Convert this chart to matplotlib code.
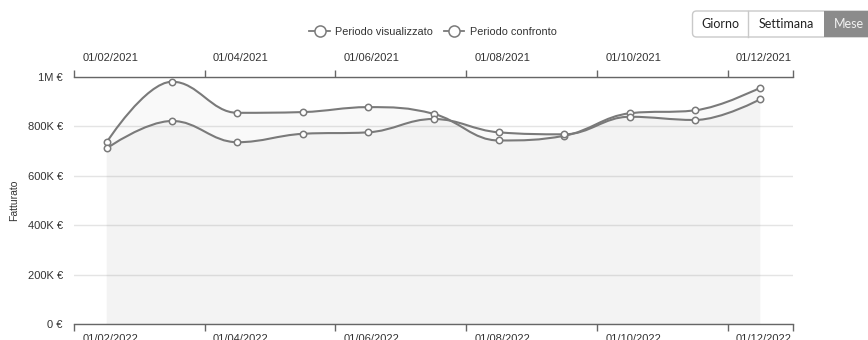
import matplotlib.pyplot as plt
from matplotlib.path import Path
from matplotlib.patches import PathPatch, FancyBboxPatch, Rectangle
from matplotlib.lines import Line2D
from matplotlib.transforms import IdentityTransform, ScaledTranslation

plt.rcParams['font.family'] = ['Liberation Sans', 'DejaVu Sans']

# fatturato mensile, febbraio -> dicembre
periodo_visualizzato = [736000, 981000, 855000, 858000, 878000, 851000,
                        743000, 762000, 853000, 865000, 957000]
periodo_confronto = [711000, 822000, 736000, 770000, 776000, 830000,
                     776000, 768000, 839000, 826000, 910000]
series_labels = ['Periodo visualizzato', 'Periodo confronto']

top_tick_labels = ['01/02/2021', '01/04/2021', '01/06/2021',
                   '01/08/2021', '01/10/2021', '01/12/2021']
bottom_tick_labels = ['01/02/2022', '01/04/2022', '01/06/2022',
                      '01/08/2022', '01/10/2022', '01/12/2022']
y_ticks = [0, 200000, 400000, 600000, 800000, 1000000]
y_tick_labels = ['0 €', '200K €', '400K €', '600K €', '800K €', '1M €']
buttons = ['Giorno', 'Settimana', 'Mese']

LINE = '#7a7a7a'
TEXT = '#333333'
AXIS = '#666666'


def spline_path(xs, ys, smoothing=1.5):
    """Cubic bezier path through the points, highcharts-style spline."""
    n = len(xs)
    denom = smoothing + 1
    left = [(x, y) for x, y in zip(xs, ys)]
    right = [(x, y) for x, y in zip(xs, ys)]
    for i in range(1, n - 1):
        x, y = xs[i], ys[i]
        lx, ly = xs[i - 1], ys[i - 1]
        nx, ny = xs[i + 1], ys[i + 1]
        lcx = (smoothing * x + lx) / denom
        lcy = (smoothing * y + ly) / denom
        rcx = (smoothing * x + nx) / denom
        rcy = (smoothing * y + ny) / denom
        if rcx != lcx:
            corr = (rcy - lcy) * (rcx - x) / (rcx - lcx) + y - rcy
            lcy += corr
            rcy += corr
        if lcy > ly and lcy > y:
            lcy = max(ly, y)
            rcy = 2 * y - lcy
        elif lcy < ly and lcy < y:
            lcy = min(ly, y)
            rcy = 2 * y - lcy
        if rcy > ny and rcy > y:
            rcy = max(ny, y)
            lcy = 2 * y - rcy
        elif rcy < ny and rcy < y:
            rcy = min(ny, y)
            lcy = 2 * y - rcy
        left[i] = (lcx, lcy)
        right[i] = (rcx, rcy)
    verts = [(xs[0], ys[0])]
    codes = [Path.MOVETO]
    for i in range(1, n):
        verts += [right[i - 1], left[i], (xs[i], ys[i])]
        codes += [Path.CURVE4] * 3
    return verts, codes


fig = plt.figure(figsize=(8.68, 3.4), dpi=100)
W, H = 868, 340
ax = fig.add_axes([74 / W, (H - 324) / H, (793 - 74) / W, (324 - 77) / H])

n_months = len(periodo_visualizzato)
xs = [i + 0.5 for i in range(n_months)]

for values in (periodo_visualizzato, periodo_confronto):
    verts, codes = spline_path(xs, values)
    # area under the curve
    area = verts + [(xs[-1], 0), (xs[0], 0), (xs[0], values[0])]
    area_codes = codes + [Path.LINETO, Path.LINETO, Path.CLOSEPOLY]
    ax.add_patch(PathPatch(Path(area, area_codes), facecolor='#8a8a8a',
                           edgecolor='none', alpha=0.05, zorder=1))
    ax.add_patch(PathPatch(Path(verts, codes), facecolor='none',
                           edgecolor=LINE, lw=1.5, zorder=3))
    ax.plot(xs, values, ls='none', marker='o', markersize=4.6,
            mfc='white', mec=LINE, mew=1.1, zorder=4)

ax.set_xlim(0, n_months)
ax.set_ylim(0, 1000000)

for side in ('left', 'right'):
    ax.spines[side].set_visible(False)
for side in ('top', 'bottom'):
    ax.spines[side].set_color(AXIS)
    ax.spines[side].set_linewidth(1)

tick_pos = list(range(0, n_months, 2))
ax.set_xticks(tick_pos + [n_months])
ax.tick_params(axis='x', which='both', top=True, bottom=True,
               labeltop=False, labelbottom=False, direction='out',
               length=5, color=AXIS, width=1)

ax.set_yticks(y_ticks)
ax.set_yticklabels(y_tick_labels)
ax.tick_params(axis='y', length=0, pad=8, labelsize=8, labelcolor=TEXT)
ax.grid(axis='y', color='#e4e4e4', lw=1, zorder=0)
ax.set_axisbelow(True)

xform = ax.get_xaxis_transform()
shift = ScaledTranslation(6 / 72, 0, fig.dpi_scale_trans)
for pos, label in zip(tick_pos, top_tick_labels):
    ax.text(pos, 1, label, transform=xform + shift + ScaledTranslation(0, 14 / 72, fig.dpi_scale_trans),
            ha='left', va='center', fontsize=8, color=TEXT)
for pos, label in zip(tick_pos, bottom_tick_labels):
    ax.text(pos, 0, label, transform=xform + shift + ScaledTranslation(0, -11 / 72, fig.dpi_scale_trans),
            ha='left', va='center', fontsize=8, color=TEXT)

fig.text(14 / W, 1 - 200 / H, 'Fatturato', rotation=90, ha='center',
         va='center', fontsize=7.5, color=TEXT)

handles = [Line2D([], [], color=LINE, lw=1.3, marker='o', markersize=8,
                  mfc='white', mec=LINE, mew=1.1) for _ in series_labels]
fig.legend(handles, series_labels, loc='center', ncol=2, frameon=False,
           bbox_to_anchor=(433 / W, 1 - 32 / H), fontsize=7.8,
           handlelength=1.9, handletextpad=0.5, columnspacing=1.0,
           labelcolor=TEXT)

# period selector
btn_left, btn_top, btn_bottom = 692.5, 11, 37
dividers = [748, 824]
fig.add_artist(FancyBboxPatch((btn_left, H - btn_bottom), 200, btn_bottom - btn_top,
                              boxstyle='round,pad=0,rounding_size=4',
                              transform=IdentityTransform(), facecolor='white',
                              edgecolor='#c9c9c9', lw=1))
fig.add_artist(Rectangle((dividers[1], H - btn_bottom), 60, btn_bottom - btn_top,
                         transform=IdentityTransform(), facecolor='#8b8b8b',
                         edgecolor='none'))
for d in dividers[:1]:
    fig.add_artist(Line2D([d, d], [H - btn_bottom, H - btn_top],
                          transform=IdentityTransform(), color='#c9c9c9', lw=1))
edges = [btn_left] + dividers + [868 + 6]
for i, name in enumerate(buttons):
    cx = (edges[i] + edges[i + 1]) / 2
    color = '#f2f2f2' if name == 'Mese' else '#222222'
    fig.text(cx / W, 1 - (btn_top + btn_bottom) / 2 / H, name, ha='center',
             va='center', fontsize=9, color=color, family=['Lato', 'DejaVu Sans'])

fig.savefig('out.png', dpi=100)
